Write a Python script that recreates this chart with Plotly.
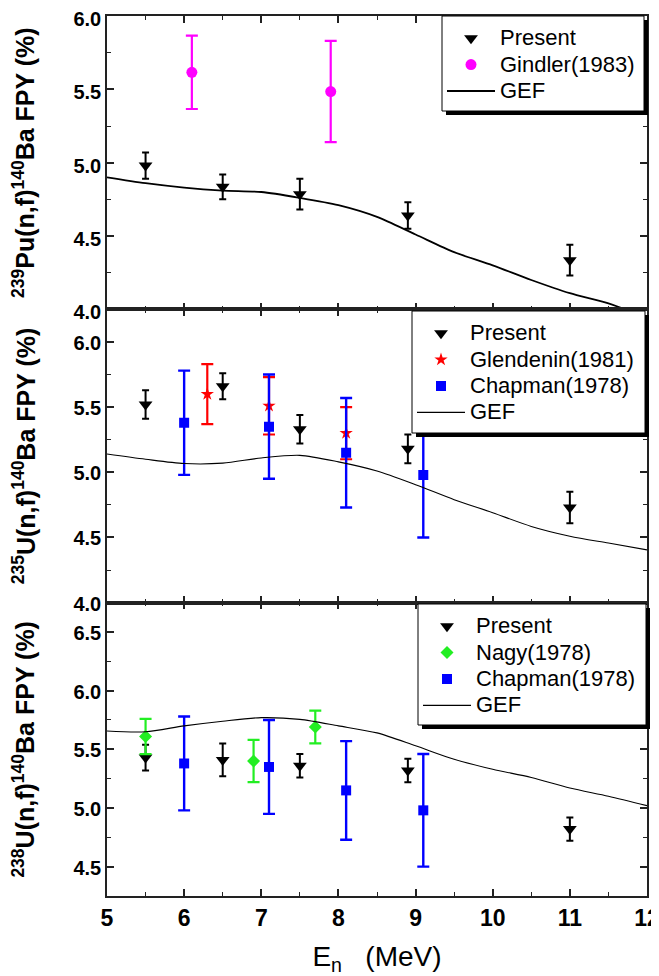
import plotly.graph_objects as go

FONT = "Liberation Sans, Arial, sans-serif"

# ---------------- data ----------------
gef_x = [5.0, 5.5, 6.0, 6.5, 7.0, 7.5, 8.0, 8.5, 9.0, 9.5, 10.0, 10.5, 11.0, 11.5, 12.0]

# Panel 1: 239Pu(n,f)
pu_present_x = [5.5, 6.5, 7.5, 8.9, 11.0]
pu_present_y = [4.98, 4.835, 4.785, 4.64, 4.335]
pu_present_err = [0.09, 0.085, 0.105, 0.09, 0.105]
gindler_x = [6.1, 7.9]
gindler_y = [5.616, 5.485]
gindler_err = [0.25, 0.345]
pu_gef_y = [4.90, 4.86, 4.83, 4.81, 4.80, 4.76, 4.71, 4.63, 4.51, 4.39, 4.30, 4.20, 4.11, 4.04, 3.94]

# Panel 2: 235U(n,f)
u235_present_x = [5.5, 6.5, 7.5, 8.9, 11.0]
u235_present_y = [5.52, 5.66, 5.33, 5.18, 4.73]
u235_present_err = [0.11, 0.10, 0.11, 0.11, 0.12]
glendenin_x = [6.3, 7.1, 8.1]
glendenin_y = [5.60, 5.51, 5.30]
glendenin_err = [0.23, 0.22, 0.20]
chapman_x = [6.0, 7.1, 8.1, 9.1]
chapman_y = [5.38, 5.35, 5.15, 4.98]
chapman_err = [0.40, 0.40, 0.42, 0.48]
u235_gef_y = [5.14, 5.10, 5.067, 5.07, 5.11, 5.13, 5.08, 5.01, 4.905, 4.79, 4.69, 4.585, 4.51, 4.457, 4.405]

# Panel 3: 238U(n,f)
u238_present_x = [5.5, 6.5, 7.5, 8.9, 11.0]
u238_present_y = [5.43, 5.41, 5.36, 5.32, 4.82]
u238_present_err = [0.11, 0.14, 0.10, 0.10, 0.10]
nagy_x = [5.5, 6.9, 7.7]
nagy_y = [5.61, 5.40, 5.69]
nagy_err = [0.15, 0.18, 0.14]
u238_gef_y = [5.656, 5.65, 5.70, 5.74, 5.77, 5.755, 5.70, 5.64, 5.53, 5.415, 5.33, 5.26, 5.17, 5.10, 5.02]

x_range = [5, 12]
y_ranges = [[4.0, 6.0], [4.0, 6.25], [4.25, 6.75]]
y_titles = [
    "<sup>239</sup>Pu(n,f)<sup>140</sup>Ba FPY (%)",
    "<sup>235</sup>U(n,f)<sup>140</sup>Ba FPY (%)",
    "<sup>238</sup>U(n,f)<sup>140</sup>Ba FPY (%)",
]
x_title = "E<sub>n</sub>\u00a0\u00a0\u00a0(MeV)"

BLACK = "#000000"
MAGENTA = "#FF00FF"
RED = "#FF0000"
BLUE = "#0000FF"
GREEN = "#22EE22"

# the page body adds an 8px offset; size the figure so the plot lands where it should
OFF = 8
W, H = 659 - OFF, 976 - OFF
ML, MR, MT, MB = 107 - OFF, 12, 16 - OFF, 80
PW, PH = W - ML - MR, H - MT - MB

LEG_TEXT = '<span style="font-size:22px">{}</span>'

fig = go.Figure()


def pts(x, y, err, name, symbol, color, size, capw, thick, ax, leg):
    fig.add_trace(go.Scatter(
        x=x, y=y, mode="markers", name=LEG_TEXT.format(name),
        marker=dict(symbol=symbol, color=color, size=size, line=dict(width=0)),
        error_y=dict(type="data", array=err, visible=True, color=color,
                     thickness=thick, width=capw),
        xaxis="x" + ax, yaxis="y" + ax, legend=leg))


def gef(y, width, ax, leg):
    fig.add_trace(go.Scatter(
        x=gef_x, y=y, mode="lines", name=LEG_TEXT.format("GEF"),
        line=dict(color=BLACK, width=width, shape="spline", smoothing=0.8),
        xaxis="x" + ax, yaxis="y" + ax, legend=leg))


# panel 1 (top)
pts(pu_present_x, pu_present_y, pu_present_err, "Present", "triangle-down", BLACK, 12, 3.5, 2, "", "legend")
pts(gindler_x, gindler_y, gindler_err, "Gindler(1983)", "circle", MAGENTA, 11, 6, 2.2, "", "legend")
gef(pu_gef_y, 1.8, "", "legend")

# panel 2 (middle)
pts(u235_present_x, u235_present_y, u235_present_err, "Present", "triangle-down", BLACK, 12, 3.5, 2, "2", "legend2")
pts(glendenin_x, glendenin_y, glendenin_err, "Glendenin(1981)", "star", RED, 10, 6, 2.2, "2", "legend2")
pts(chapman_x, chapman_y, chapman_err, "Chapman(1978)", "square", BLUE, 10, 6, 2.4, "2", "legend2")
gef(u235_gef_y, 1.1, "2", "legend2")

# panel 3 (bottom)
pts(u238_present_x, u238_present_y, u238_present_err, "Present", "triangle-down", BLACK, 12, 3.5, 2, "3", "legend3")
pts(nagy_x, nagy_y, nagy_err, "Nagy(1978)", "diamond", GREEN, 10, 6, 2.2, "3", "legend3")
pts(chapman_x, chapman_y, chapman_err, "Chapman(1978)", "square", BLUE, 10, 6, 2.4, "3", "legend3")
gef(u238_gef_y, 1.1, "3", "legend3")

AX = "#222222"
domains = [[2 / 3, 1.0], [1 / 3, 2 / 3], [0.0, 1 / 3]]
names = ["", "2", "3"]
label_shift = [3, 1, 1]
layout = {}
for i, n in enumerate(names):
    layout["xaxis" + n] = dict(
        range=x_range, dtick=1, tick0=5, ticks="inside", ticklen=7, tickwidth=1.5, tickcolor=AX,
        minor=dict(dtick=0.5, ticks="inside", ticklen=4, tickwidth=1.3, tickcolor=AX),
        showline=True, linecolor=AX, linewidth=1.5, mirror="allticks",
        showgrid=False, zeroline=False, anchor="y" + n, automargin=False,
        showticklabels=(i == 2), ticklabelstandoff=1, ticklabeloverflow="allow",
        tickfont=dict(family=FONT, size=23, color=BLACK, weight="bold"),
    )
    layout["yaxis" + n] = dict(
        range=y_ranges[i], domain=domains[i], dtick=0.5, tick0=4, tickformat=".1f",
        ticks="inside", ticklen=7, tickwidth=1.5, tickcolor=AX,
        minor=dict(dtick=0.25, ticks="inside", ticklen=4, tickwidth=1.3, tickcolor=AX),
        showline=True, linecolor=AX, linewidth=1.5, mirror="allticks",
        showgrid=False, zeroline=False, anchor="x" + n, automargin=False,
        ticklabeloverflow="allow", ticklabelshift=label_shift[i],
        tickfont=dict(family=FONT, size=20, color=BLACK, weight="bold"),
        title=dict(text=y_titles[i], font=dict(family=FONT, size=25, color=BLACK, weight="bold"), standoff=34),
    )
layout["xaxis3"]["title"] = dict(text=x_title, font=dict(family=FONT, size=28, color=BLACK), standoff=20)


def px_x(px):
    return (px - OFF - ML) / PW


def px_y(py):
    return (MT + PH - (py - OFF)) / PH


# legend boxes in page pixels: (left, top, right, bottom)
legend_boxes = [(442, 16, 644, 111), (412, 311, 645, 433), (418, 604, 646, 725)]
SHADOW = 4

leg_common = dict(xanchor="left", yanchor="top", xref="paper", yref="paper",
                  bgcolor="rgba(0,0,0,0)", borderwidth=0,
                  font=dict(family=FONT, size=18, color=BLACK),
                  itemwidth=48, tracegroupgap=0)
for key, (l, t, r, b) in zip(["legend", "legend2", "legend3"], legend_boxes):
    layout[key] = dict(x=px_x(l), y=px_y(t + 4), **leg_common)

shapes = []
for (l, t, r, b) in legend_boxes:
    shapes.append(dict(type="rect", xref="paper", yref="paper",
                       x0=px_x(l + SHADOW), x1=px_x(r + SHADOW),
                       y0=px_y(t + SHADOW), y1=px_y(b + SHADOW),
                       fillcolor=BLACK, line=dict(width=0), layer="above"))
    shapes.append(dict(type="rect", xref="paper", yref="paper",
                       x0=px_x(l), x1=px_x(r), y0=px_y(t), y1=px_y(b),
                       fillcolor="white", line=dict(width=1, color=BLACK), layer="above"))

fig.update_layout(
    width=W, height=H,
    margin=dict(l=ML, r=MR, t=MT, b=MB),
    paper_bgcolor="white", plot_bgcolor="white",
    showlegend=True, shapes=shapes,
    **layout,
)

fig.write_html("out.html")
